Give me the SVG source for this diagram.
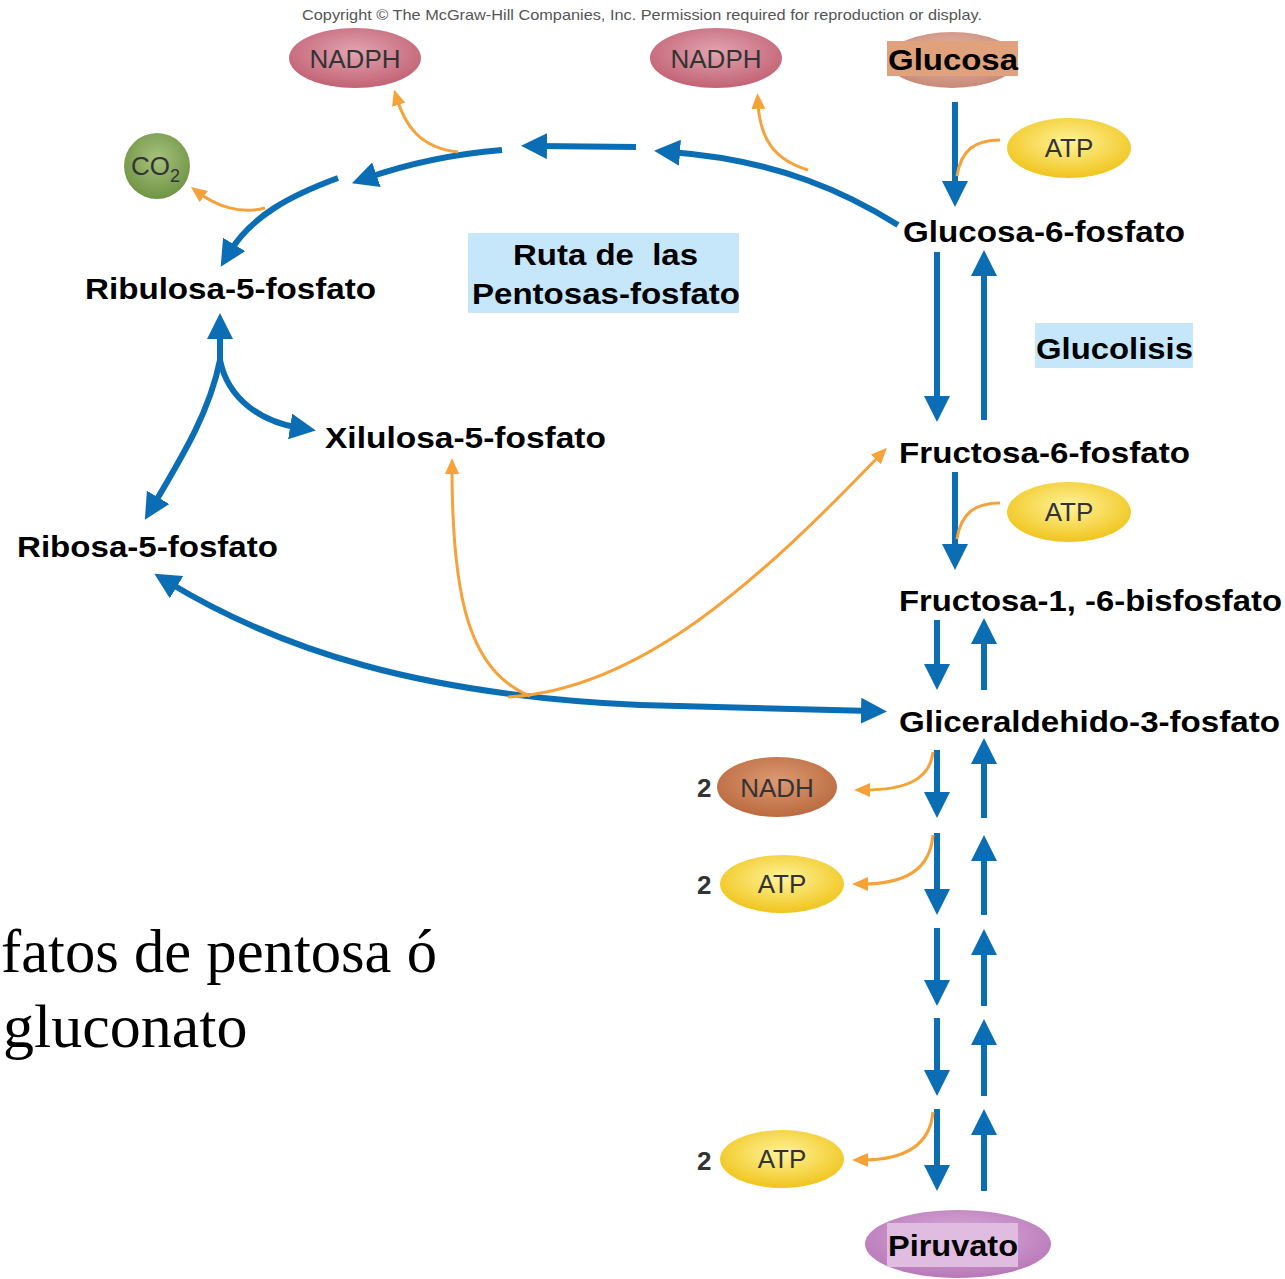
<svg xmlns="http://www.w3.org/2000/svg" width="1285" height="1279" viewBox="0 0 1285 1279">
<defs>
<style>
.lbl{font-family:"Liberation Sans",Arial,sans-serif;font-weight:bold;font-size:30px;fill:#000}
.mol{font-family:"Liberation Sans",Arial,sans-serif;font-size:26px;fill:#333}
.num{font-family:"Liberation Sans",Arial,sans-serif;font-weight:bold;font-size:26px;fill:#333}
.blue{fill:none;stroke:#0b6db3;stroke-width:6}
.org{fill:none;stroke:#f6a23a;stroke-width:3}
.serif{font-family:"Liberation Serif","Times New Roman",serif;font-size:62px;fill:#000}
</style>
<marker id="ab" viewBox="0 0 26 26" refX="10" refY="13" markerWidth="26" markerHeight="26" orient="auto" markerUnits="userSpaceOnUse"><path d="M0,0 L26,13 L0,26 Z" fill="#0b6db3"/></marker>
<marker id="abs" viewBox="0 0 26 26" refX="10" refY="13" markerWidth="26" markerHeight="26" orient="auto-start-reverse" markerUnits="userSpaceOnUse"><path d="M0,0 L26,13 L0,26 Z" fill="#0b6db3"/></marker>
<marker id="ao" viewBox="0 0 16 14" refX="6" refY="7" markerWidth="16" markerHeight="14" orient="auto" markerUnits="userSpaceOnUse"><path d="M0,0 L16,7 L0,14 Z" fill="#f6a23a"/></marker>
<radialGradient id="gPink" cx="50%" cy="40%" r="60%"><stop offset="0" stop-color="#e2a4b0"/><stop offset="1" stop-color="#c26274"/></radialGradient>
<radialGradient id="gYel" cx="50%" cy="40%" r="60%"><stop offset="0" stop-color="#fff49a"/><stop offset="1" stop-color="#f0c41c"/></radialGradient>
<radialGradient id="gBrown" cx="50%" cy="40%" r="60%"><stop offset="0" stop-color="#dc9a74"/><stop offset="1" stop-color="#bb6a3e"/></radialGradient>
<radialGradient id="gGreen" cx="50%" cy="40%" r="60%"><stop offset="0" stop-color="#a8c27e"/><stop offset="1" stop-color="#6f9444"/></radialGradient>
<radialGradient id="gGlc" cx="50%" cy="40%" r="60%"><stop offset="0" stop-color="#e8b8a8"/><stop offset="1" stop-color="#c88a78"/></radialGradient>
<radialGradient id="gPur" cx="50%" cy="40%" r="60%"><stop offset="0" stop-color="#dcb0dc"/><stop offset="1" stop-color="#b878b8"/></radialGradient>
</defs>
<rect width="1285" height="1279" fill="#ffffff"/>
<text x="302" y="20" font-family="Liberation Sans,Arial,sans-serif" font-size="14.5" fill="#555" textLength="680" lengthAdjust="spacingAndGlyphs">Copyright © The McGraw-Hill Companies, Inc. Permission required for reproduction or display.</text>

<g id="connectors">
<line class="blue" x1="955" y1="102" x2="955" y2="191" marker-end="url(#ab)"/>
<line class="blue" x1="937" y1="252" x2="937" y2="406" marker-end="url(#ab)"/>
<line class="blue" x1="984" y1="420" x2="984" y2="266" marker-end="url(#ab)"/>
<line class="blue" x1="955" y1="472" x2="955" y2="554" marker-end="url(#ab)"/>
<line class="blue" x1="937" y1="620" x2="937" y2="674" marker-end="url(#ab)"/>
<line class="blue" x1="984" y1="690" x2="984" y2="634" marker-end="url(#ab)"/>
<line class="blue" x1="937" y1="750" x2="937" y2="802" marker-end="url(#ab)"/>
<line class="blue" x1="984" y1="818" x2="984" y2="754" marker-end="url(#ab)"/>
<line class="blue" x1="937" y1="833" x2="937" y2="899" marker-end="url(#ab)"/>
<line class="blue" x1="984" y1="915" x2="984" y2="851" marker-end="url(#ab)"/>
<line class="blue" x1="937" y1="928" x2="937" y2="990" marker-end="url(#ab)"/>
<line class="blue" x1="984" y1="1006" x2="984" y2="945" marker-end="url(#ab)"/>
<line class="blue" x1="937" y1="1018" x2="937" y2="1080" marker-end="url(#ab)"/>
<line class="blue" x1="984" y1="1096" x2="984" y2="1035" marker-end="url(#ab)"/>
<line class="blue" x1="937" y1="1109" x2="937" y2="1175" marker-end="url(#ab)"/>
<line class="blue" x1="984" y1="1191" x2="984" y2="1125" marker-end="url(#ab)"/>
<path class="org" d="M1000 140 C975 140 961 150 957 176"/>
<path class="org" d="M1000 503 C975 503 961 513 957 539"/>
<path class="org" d="M933 752 C930 780 905 790 864 790" marker-end="url(#ao)"/>
<path class="org" d="M933 835 C930 870 905 884 862 884" marker-end="url(#ao)"/>
<path class="org" d="M933 1112 C930 1145 905 1160 862 1160" marker-end="url(#ao)"/>
<path class="blue" d="M898 225 C850 195 780 160 670 152" marker-end="url(#ab)"/>
<path class="blue" d="M636 147 L537 146" marker-end="url(#ab)"/>
<path class="blue" d="M502 150 Q430 156 367 178" marker-end="url(#ab)"/>
<path class="blue" d="M338 178 C292 195 252 215 229 253" marker-end="url(#ab)"/>
<path class="org" d="M808 170 C775 160 760 140 758 103" marker-end="url(#ao)"/>
<path class="org" d="M458 152 C420 148 405 125 397 99" marker-end="url(#ao)"/>
<path class="org" d="M265 208 C240 215 215 205 199 193" marker-end="url(#ao)"/>
<path class="blue" d="M220 362 L220 329" marker-end="url(#ab)"/>
<path class="blue" d="M220 360 C210 410 185 452 153 506" marker-end="url(#ab)"/>
<path class="blue" d="M220 360 C228 400 262 422 300 428" marker-end="url(#ab)"/>
<path class="blue" d="M168 582 C280 650 420 695 640 705 L871 711" marker-start="url(#abs)" marker-end="url(#ab)"/>
<path class="org" d="M530 696 C470 672 452 600 452 468" marker-end="url(#ao)"/>
<path class="org" d="M508 697 C640 690 760 580 880 455" marker-end="url(#ao)"/>
</g>

<g id="nadph1"><ellipse cx="355" cy="58" rx="66" ry="30" fill="url(#gPink)"/><text class="mol" x="355" y="68" text-anchor="middle">NADPH</text></g>
<g id="nadph2"><ellipse cx="716" cy="58" rx="66" ry="30" fill="url(#gPink)"/><text class="mol" x="716" y="68" text-anchor="middle">NADPH</text></g>
<g id="glucosa"><ellipse cx="952" cy="60" rx="65" ry="28" fill="url(#gGlc)"/><rect x="887" y="41" width="131" height="35" fill="#dfa27c"/><text class="lbl" x="888" y="70" font-size="29" textLength="130" lengthAdjust="spacingAndGlyphs">Glucosa</text></g>
<g id="atp1"><ellipse cx="1069" cy="148" rx="62" ry="30" fill="url(#gYel)"/><text class="mol" x="1069" y="157" font-size="25" text-anchor="middle">ATP</text></g>
<g id="co2"><circle cx="157" cy="166" r="33" fill="url(#gGreen)"/><text class="mol" x="131" y="175" font-size="26">CO<tspan font-size="18" dy="7">2</tspan></text></g>
<g id="g6p"><text class="lbl" x="903" y="242" textLength="282" lengthAdjust="spacingAndGlyphs">Glucosa-6-fosfato</text></g>
<g id="ruta"><rect x="468" y="233" width="271" height="80" fill="#c6e6fa"/><text class="lbl" x="513" y="265" textLength="185" lengthAdjust="spacingAndGlyphs" xml:space="preserve">Ruta de  las</text><text class="lbl" x="472" y="304" textLength="268" lengthAdjust="spacingAndGlyphs">Pentosas-fosfato</text></g>
<g id="ribulosa"><text class="lbl" x="85" y="299" textLength="291" lengthAdjust="spacingAndGlyphs">Ribulosa-5-fosfato</text></g>
<g id="glucolisis"><rect x="1035" y="323" width="158" height="45" fill="#c6e6fa"/><text class="lbl" x="1036" y="359" textLength="157" lengthAdjust="spacingAndGlyphs">Glucolisis</text></g>
<g id="xilulosa"><text class="lbl" x="325" y="448" textLength="281" lengthAdjust="spacingAndGlyphs">Xilulosa-5-fosfato</text></g>
<g id="f6p"><text class="lbl" x="899" y="463" textLength="291" lengthAdjust="spacingAndGlyphs">Fructosa-6-fosfato</text></g>
<g id="atp2"><ellipse cx="1069" cy="512" rx="62" ry="30" fill="url(#gYel)"/><text class="mol" x="1069" y="521" font-size="25" text-anchor="middle">ATP</text></g>
<g id="ribosa"><text class="lbl" x="17" y="557" textLength="261" lengthAdjust="spacingAndGlyphs">Ribosa-5-fosfato</text></g>
<g id="f16bp"><text class="lbl" x="899" y="611" textLength="383" lengthAdjust="spacingAndGlyphs">Fructosa-1, -6-bisfosfato</text></g>
<g id="g3p"><text class="lbl" x="899" y="732" textLength="381" lengthAdjust="spacingAndGlyphs">Gliceraldehido-3-fosfato</text></g>
<g id="nadh"><text class="num" x="697" y="797">2</text><ellipse cx="777" cy="787" rx="60" ry="30" fill="url(#gBrown)"/><text class="mol" x="777" y="797" text-anchor="middle">NADH</text></g>
<g id="atp3"><text class="num" x="697" y="894">2</text><ellipse cx="782" cy="884" rx="62" ry="29" fill="url(#gYel)"/><text class="mol" x="782" y="893" font-size="25" text-anchor="middle">ATP</text></g>
<g id="atp4"><text class="num" x="697" y="1170">2</text><ellipse cx="782" cy="1159" rx="62" ry="29" fill="url(#gYel)"/><text class="mol" x="782" y="1168" font-size="25" text-anchor="middle">ATP</text></g>
<g id="piruvato"><ellipse cx="958" cy="1244" rx="93" ry="34" fill="url(#gPur)"/><rect x="887" y="1223" width="131" height="44" fill="#e0bce0"/><text class="lbl" x="888" y="1256" font-size="29" textLength="130" lengthAdjust="spacingAndGlyphs">Piruvato</text></g>
<g id="caption"><text class="serif" x="1" y="972" textLength="436" lengthAdjust="spacingAndGlyphs">fatos de pentosa ó</text><text class="serif" x="3" y="1047">gluconato</text></g>
</svg>
